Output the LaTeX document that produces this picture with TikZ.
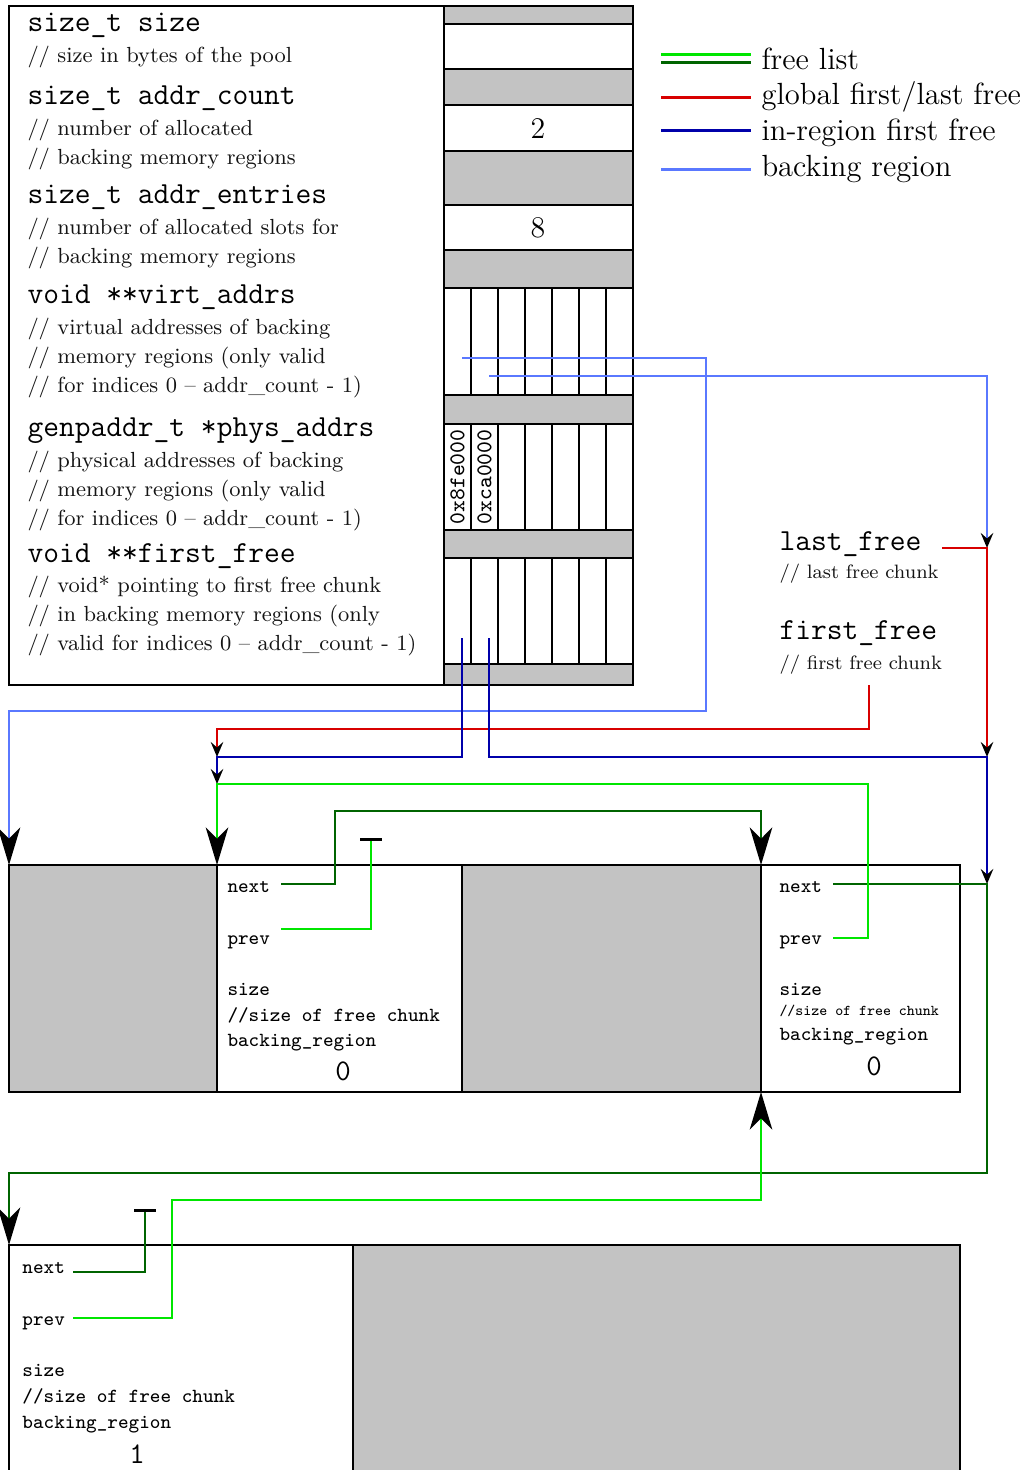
\documentclass[tikz,border=0pt]{standalone}
\usetikzlibrary{arrows.meta,positioning}
\definecolor{listlight}{HTML}{00E600}
\definecolor{listdark}{HTML}{006400}
\definecolor{globred}{HTML}{D80000}
\definecolor{regblue}{HTML}{0000AA}
\definecolor{backblue}{HTML}{5A78FF}
\definecolor{memgray}{HTML}{C3C3C3}
\tikzset{
  ptr/.style={line width=1pt},
  nextptr/.style={ptr,draw=listdark},
  prevptr/.style={ptr,draw=listlight},
  globptr/.style={ptr,draw=globred},
  regptr/.style={ptr,draw=regblue},
  backptr/.style={ptr,draw=backblue},
  bigtip/.style={-{Stealth[black,length=15pt,width=9pt,inset=4.5pt]}},
  smalltip/.style={-{Stealth[black,length=6pt,width=5pt,inset=2.2pt]}},
  nulltip/.style={-{Bar[black,width=8.8pt,line width=1.2pt]}},
  mem/.style={draw=black,line width=1.1pt},
  memused/.style={mem,fill=memgray},
  memfree/.style={mem,fill=white},
  fieldtxt/.style={font=\fontsize{12.25}{14}\selectfont\ttfamily,anchor=base west,inner sep=0pt},
  commenttxt/.style={font=\fontsize{8.75}{11.6}\selectfont,text=black!92,align=left,
    anchor=north west,inner sep=0pt},
  chunktxt/.style={font=\footnotesize\ttfamily,anchor=west,inner sep=0pt},
  chunknum/.style={font=\large\ttfamily,inner sep=0pt},
  legendtxt/.style={font=\fontsize{12.25}{14}\selectfont,anchor=west,inner sep=0pt},
  hexaddr/.style={font=\small\ttfamily,rotate=90,inner sep=0pt},
}

\begin{document}
\begin{tikzpicture}[x=0.4pt,y=-0.4pt]
\useasboundingbox (0,0) rectangle (1025,1470);
\clip (0,0) rectangle (1025,1470);

% pool struct and its memory
\draw[memfree] (9,6) rectangle (444,685);
\foreach \ya/\yb/\fc in {6/24/memgray,24/69/white,69/105/memgray,105/151/white,
  151/205/memgray,205/250/white,250/288/memgray,288/395/white,395/424/memgray,
  424/530/white,530/558/memgray,558/664/white,664/685/memgray}
  \draw[mem,fill=\fc] (444,\ya) rectangle (633,\yb);
\foreach \ya/\yb in {288/395,424/530,558/664}
  \foreach \k in {1,...,6}
    \draw[mem] (444+27*\k,\ya) -- (444+27*\k,\yb);
\node[font=\large] (count) at (538,129) {2};
\node[font=\large] (entries) at (538,228) {8};
\node[hexaddr] (phys0) at (457.5,477) {0x8fe000};
\node[hexaddr] (phys1) at (484.5,477) {0xca0000};

\node[fieldtxt] (fsize) at (27,32) {size\_t size};
\node[commenttxt] (nsize) at (27,46) {// size in bytes of the pool};
\node[fieldtxt] (fcount) at (27,105) {size\_t addr\_count};
\node[commenttxt] (ncount) at (27,119) {// number of allocated\\// backing memory regions};
\node[fieldtxt] (fentries) at (27,204) {size\_t addr\_entries};
\node[commenttxt] (nentries) at (27,218) {// number of allocated slots for\\// backing memory regions};
\node[fieldtxt] (fvirt) at (27,304) {void **virt\_addrs};
\node[commenttxt] (nvirt) at (27,318) {// virtual addresses of backing\\// memory regions (only valid\\// for indices 0 -- addr\_count - 1)};
\node[fieldtxt] (fphys) at (27,437) {genpaddr\_t *phys\_addrs};
\node[commenttxt] (nphys) at (27,451) {// physical addresses of backing\\// memory regions (only valid\\// for indices 0 -- addr\_count - 1)};
\node[fieldtxt] (ffirst) at (27,562) {void **first\_free};
\node[commenttxt] (nfirst) at (27,576) {// void* pointing to first free chunk\\// in backing memory regions (only\\// valid for indices 0 -- addr\_count - 1)};

% legend
\draw[prevptr,line width=1.2pt] (661,55) -- (751,55);
\draw[nextptr,line width=1.2pt] (661,63) -- (751,63);
\draw[globptr,line width=1.2pt] (661,98) -- (751,98);
\draw[regptr,line width=1.2pt] (661,131) -- (751,131);
\draw[backptr,line width=1.2pt] (661,170) -- (751,170);
\node[legendtxt] (lglist) at (761,59) {free list};
\node[legendtxt] (lgglob) at (761,97) {global first/last free};
\node[legendtxt] (lgreg) at (761,133) {in-region first free};
\node[legendtxt] (lgback) at (761,169) {backing region};

% global pointers
\node[fieldtxt] (lastfree) at (779,550) {last\_free};
\node[commenttxt,font=\fontsize{7.75}{9}\selectfont] (lastnote) at (779,563) {// last free chunk};
\node[fieldtxt] (firstfree) at (779,639) {first\_free};
\node[commenttxt,font=\fontsize{7.75}{9}\selectfont] (firstnote) at (779,654) {// first free chunk};

% backing memory chunks
\draw[memused] (9,865) rectangle (217,1092);
\draw[memfree] (217,865) rectangle (462,1092);
\draw[memused] (462,865) rectangle (761,1092);
\draw[memfree] (761,865) rectangle (960,1092);
\draw[memfree] (9,1245) rectangle (353,1480);
\draw[memused] (353,1245) rectangle (960,1480);
\foreach \c/\x/\y/\nf/\dn/\dr/\dv/\dx/\v in {1/227/887/\footnotesize/128/156/184/116/0,
  2/779/887/\fontsize{6}{7}\selectfont/124/150/179/95/0,3/22/1268/\footnotesize/128/157/186/115/1}{
  \node[chunktxt] (c\c-next) at (\x,\y) {next};
  \node[chunktxt] (c\c-prev) at (\x,\y+55) {prev};
  \node[chunktxt] (c\c-size) at (\x,\y+102) {size};
  \node[chunktxt,font=\nf\ttfamily] (c\c-note) at (\x,\y+\dn) {//size of free chunk};
  \node[chunktxt] (c\c-region) at (\x,\y+\dr) {backing\_region};
  \node[chunknum] (c\c-num) at (\x+\dx,\y+\dv) {\v};
}

\coordinate (ch1) at (9,865);
\coordinate (ch1free) at (217,865);
\coordinate (ch2free) at (761,865);
\coordinate (ch2bot) at (761,1092);
\coordinate (ch3free) at (9,1245);
\coordinate (virt0) at (462,358);
\coordinate (virt1) at (489,376);
\coordinate (ff0) at (462,638);
\coordinate (ff1) at (489,638);
\coordinate (lastout) at (942,548);
\coordinate (firstout) at (869,685);
\coordinate (lastjoin) at (987,548);
\coordinate (regjoin) at (987,757);
\coordinate (leftjoin) at (217,757);
\coordinate (listjoin) at (217,784);
\coordinate (c2join) at (987,884);
\coordinate (c1n) at (281,884);
\coordinate (c1p) at (281,929);
\coordinate (c2n) at (833,884);
\coordinate (c2p) at (833,938);
\coordinate (c3n) at (73,1272);
\coordinate (c3p) at (73,1318);

% pointers
\draw[backptr,bigtip] (virt0) -| (706,711) -| (ch1);
\draw[backptr,smalltip] (virt1) -| (lastjoin);
\draw[globptr,smalltip] (lastout) -| (regjoin);
\draw[globptr,smalltip] (firstout) |- (217,729) -- (leftjoin);
\draw[regptr,smalltip] (ff0) |- (leftjoin) -- (listjoin);
\draw[regptr,smalltip] (ff1) |- (regjoin) -- (c2join);
\draw[nextptr,bigtip] (c1n) -| (335,811) -| (ch2free);
\draw[prevptr,nulltip] (c1p) -| (371,838);
\draw[nextptr,bigtip] (c2n) -| (987,1173) -| (ch3free);
\draw[prevptr,bigtip] (c2p) -| (868,784) -| (ch1free);
\draw[nextptr,nulltip] (c3n) -| (145,1209);
\draw[prevptr,bigtip] (c3p) -| (172,1200) -| (ch2bot);
\end{tikzpicture}
\end{document}
